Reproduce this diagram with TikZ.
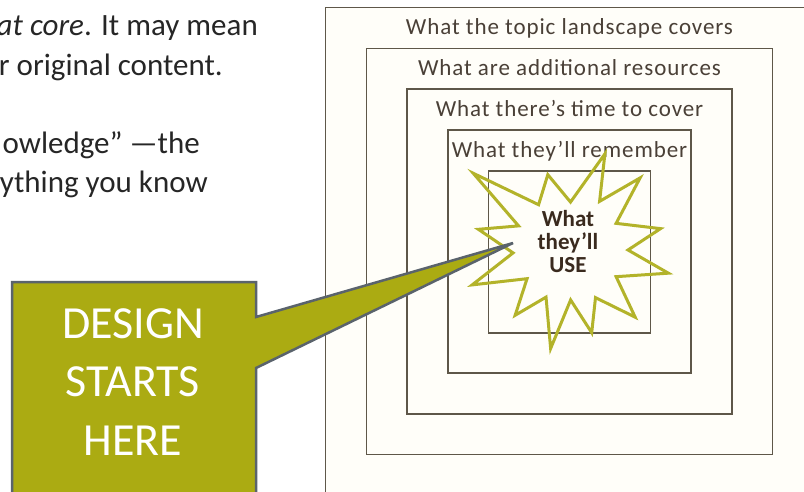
\documentclass[tikz,border=0pt]{standalone}
\usepackage{fontspec}
\setmainfont{Carlito}
\newfontfamily\ringfont[LetterSpace=4]{Carlito}
\usetikzlibrary{calc}
\definecolor{olive}{HTML}{ABAB12}
\definecolor{slate}{HTML}{5A636C}
\definecolor{frame}{HTML}{5E5749}
\definecolor{ink}{HTML}{4A4037}
\definecolor{usebrown}{HTML}{3A2A1E}
\definecolor{cream}{HTML}{FFFEF9}
\definecolor{prosegray}{HTML}{262626}
\tikzset{
  ring/.style={rectangle,draw=frame,line width=1.3pt,fill=cream,inner sep=0pt},
  ringlbl/.style={anchor=base,inner sep=0pt,text=ink,
    font=\ringfont\fontsize{23}{26}\selectfont},
  prose/.style={anchor=base east,inner sep=0pt,text=prosegray,
    font=\fontsize{31}{36}\selectfont},
  burst/.style={draw=olive!90!white,line width=3pt,line join=miter},
  usetxt/.style={align=center,inner sep=0pt,text=usebrown,
    font=\bfseries\fontsize{23}{23}\selectfont},
  callout/.style={fill=olive,draw=slate,line width=2.5pt,line join=miter},
  starttxt/.style={align=center,inner sep=0pt,text=white,
    font=\fontsize{46}{58.5}\selectfont},
}

\begin{document}
\begin{tikzpicture}[x=1pt,y=-1pt]
  \useasboundingbox (0,0) rectangle (804,491);
  \clip (0,0) rectangle (804,491);

  % text running off the left edge
  \node[prose] (p1) at (258,35) {\textit{at core}. It may mean};
  \node[prose] (p2) at (223,75) {r original content.};
  \node[prose] (p3) at (200,153) {owledge” —the};
  \node[prose] (p4) at (208,192) {ything you know};

  % nested rings, outer first, each with its caption near the top
  \foreach \n/\s/\t in {land/488/What the topic landscape covers,
      extra/406/What are additional resources,
      time/325/What there’s time to cover,
      recall/243/What they’ll remember}{
    \node[ring,minimum size=\s pt] (\n) at (569.5,251.5) {};
    \node[ringlbl] (\n-lbl) at ($(\n.north)+(0,28)$) {\t};
  }
  \node[ring,minimum size=162pt] (use) at (569.5,252) {};

  % starburst round the core
  \coordinate (burst) at (568,250);
  \draw[burst] ($(burst)+(-177:55pt)$)
    \foreach \a/\r in {-160/102,-145/50,-129/84,-115/52,-100/100,-87/50,
        -74/86,-60/55,-45/95,-29/55,-13/103,0/60,13/95,29/55,45/102,
        57/58,69/103,87/48,105/78,123/54,141/122,154/55,167/92}
      { -- ($(burst)+(\a:\r pt)$) } -- cycle;
  \node[usetxt] (core) at (568,242) {What\\they’ll\\USE};

  % callout box with its pointer
  \coordinate (tip) at (513,243);
  \draw[callout] (12,282) -- (256,282) -- (256,317) -- (tip)
    -- (256,368) -- (256,500) -- (12,500) -- cycle;
  \node[starttxt] (start) at (133,382) {DESIGN\\STARTS\\HERE};
\end{tikzpicture}
\end{document}
